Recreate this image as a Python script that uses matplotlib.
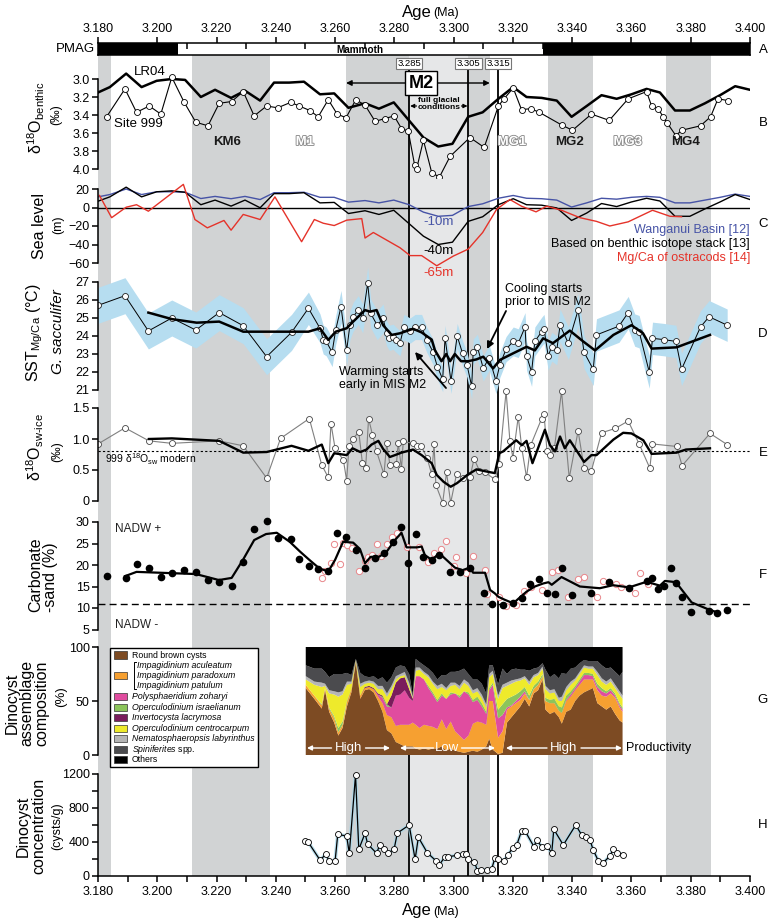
import numpy as np
import matplotlib.pyplot as plt
import matplotlib.patheffects as pe
from matplotlib.patches import Rectangle
from matplotlib.ticker import MultipleLocator, FormatStrFormatter, FixedLocator

plt.rcParams['font.family'] = ['Liberation Sans', 'DejaVu Sans']
plt.rcParams['mathtext.fontset'] = 'custom'
plt.rcParams['mathtext.rm'] = 'Liberation Sans'
plt.rcParams['mathtext.it'] = 'Liberation Sans:italic'
plt.rcParams['mathtext.bf'] = 'Liberation Sans:bold'
plt.rcParams['axes.linewidth'] = 1.1

# ------------------------------------------------------------------ data
pmag_bounds = [3.180, 3.207, 3.330, 3.400]
pmag_colors = ['black', 'white', 'black']
glacial_bands = [(3.1800, 3.1843), (3.2117, 3.2380), (3.2637, 3.3122),
                 (3.3318, 3.3470), (3.3716, 3.3870)]
full_glacial = (3.285, 3.305)
event_lines = [3.285, 3.305, 3.315]
stage_names = ['KM6', 'M1', 'MG1', 'MG2', 'MG3', 'MG4']
stage_ages = [3.2235, 3.2498, 3.3197, 3.3392, 3.3588, 3.3784]
stage_glacial = [True, False, False, True, False, True]

# B: benthic d18O
lr04_age = [3.1800, 3.1840, 3.1895, 3.1947, 3.1998, 3.2049, 3.2094, 3.2147, 3.2195, 3.2249,
            3.2296, 3.2347, 3.2394, 3.2445, 3.2495, 3.2549, 3.2597, 3.2645, 3.2701, 3.2748,
            3.2798, 3.2898, 3.2948, 3.2996, 3.3049, 3.3098, 3.3151, 3.3201, 3.3246, 3.3297,
            3.3348, 3.3398, 3.3449, 3.3499, 3.3550, 3.3600, 3.3651, 3.3696, 3.3747, 3.3797,
            3.3848, 3.3899, 3.3950, 3.4000]
lr04_d18o = [3.15, 3.09, 2.94, 3.09, 3.02, 3.00, 3.01, 3.20, 3.12, 3.21,
             3.13, 3.24, 3.04, 3.04, 3.03, 3.17, 3.16, 3.32, 3.27, 3.33,
             3.26, 3.65, 3.75, 3.72, 3.42, 3.37, 3.22, 3.09, 3.20, 3.21,
             3.24, 3.42, 3.30, 3.18, 3.22, 3.17, 3.11, 3.15, 3.35, 3.35,
             3.27, 3.18, 3.08, 3.12]
site999_age = [3.1829, 3.1891, 3.1930, 3.1973, 3.2012, 3.2049, 3.2091, 3.2130, 3.2171, 3.2209,
               3.2251, 3.2290, 3.2327, 3.2369, 3.2406, 3.2450, 3.2479, 3.2515, 3.2543, 3.2577,
               3.2607, 3.2637, 3.2670, 3.2701, 3.2735, 3.2768, 3.2799, 3.2824, 3.2847, 3.2868,
               3.2875, 3.2898, 3.2926, 3.2952, 3.2988, 3.3055, 3.3103, 3.3151, 3.3170, 3.3201,
               3.3229, 3.3260, 3.3289, 3.3364, 3.3401, 3.3465, 3.3525, 3.3589, 3.3651, 3.3668,
               3.3690, 3.3707, 3.3721, 3.3750, 3.3769, 3.3833, 3.3867, 3.3892, 3.3926]
site999_d18o = [3.42, 3.11, 3.37, 3.30, 3.39, 2.98, 3.26, 3.48, 3.52, 3.27,
                3.25, 3.14, 3.41, 3.30, 3.32, 3.26, 3.30, 3.35, 3.42, 3.23,
                3.39, 3.43, 3.23, 3.29, 3.47, 3.44, 3.41, 3.55, 3.58, 3.95,
                4.00, 3.68, 4.04, 4.09, 3.86, 3.65, 3.76, 3.30, 3.22, 3.10,
                3.34, 3.33, 3.37, 3.51, 3.57, 3.39, 3.46, 3.22, 3.14, 3.30,
                3.33, 3.42, 3.49, 3.63, 3.57, 3.52, 3.42, 3.22, 3.24]

# C: sea level (m)
stack_sl = [6.8, 11.5, 22, 11.5, 17, 18, 16.5, 3, 8, 1.5,
            8, -0.3, 15, 15, 16, 5, 5.5, -6.5, -3.5, -7.5,
            -3, -31, -40, -37.5, -15, -10, 3, 9.5, 3, 2.5,
            -0.5, -14, -6, 4.3, 1, 6, 10, 7, -9.5, -9.5,
            -1.5, 6, 14, 8.6]
wanganui_age = [3.1800, 3.1840, 3.1895, 3.1947, 3.1998, 3.2049, 3.2094, 3.2147, 3.2195, 3.2249,
                3.2296, 3.2347, 3.2394, 3.2445, 3.2495, 3.2549, 3.2597, 3.2645, 3.2701, 3.2748,
                3.2798, 3.2850, 3.2898, 3.2948, 3.2996, 3.3049, 3.3098, 3.3151, 3.3201, 3.3246,
                3.3297, 3.3348, 3.3398, 3.3449, 3.3499, 3.3550, 3.3600, 3.3651, 3.3696, 3.3747,
                3.3797, 3.3848, 3.3899, 3.3950, 3.4000]
wanganui_sl = [11.5, 14, 20, 14, 17, 17, 16.5, 9.7, 12, 9.5,
               12, 8.6, 16, 16, 16.5, 11, 11, 5.8, 7.5, 5,
               8, 3, -5, -9.5, -8.5, 1, 4, 10, 13, 10,
               9.5, 8, 0.5, 5, 10, 9, 11, 12, 11, 5,
               5, 8, 11, 14.5, 12]
ostracod_age = [3.1805, 3.1846, 3.1895, 3.1930, 3.1970, 3.2088, 3.2127, 3.2169, 3.2225, 3.2249,
                3.2290, 3.2347, 3.2397, 3.2487, 3.2530, 3.2560, 3.2597, 3.2639, 3.2690, 3.2701,
                3.2729, 3.2819, 3.2853, 3.2892, 3.2943, 3.2999, 3.3049, 3.3098, 3.3145, 3.3190,
                3.3229, 3.3278, 3.3314, 3.3364, 3.3426, 3.3482, 3.3527, 3.3589, 3.3671, 3.3730,
                3.3769]
ostracod_sl = [13, -11, 0.3, 3, -4, 25, -13, -22, -14, -24.5,
               -7.5, -13, 11.5, -37, -13, -17, -19.5, -13.7, -12, -33,
               -27, -43.5, -52, -52, -63, -52.5, -45, -27, -2, 8.6,
               1.4, -4.7, 1.4, -3, -11, -15, -20, -15.5, -3, -9.5,
               -10]

# D: SST Mg/Ca (age, value, 1-sigma)
sst_age = [3.1800, 3.1891, 3.1970, 3.2049, 3.2130, 3.2209, 3.2290, 3.2369, 3.2453, 3.2510,
           3.2549, 3.2560, 3.2570, 3.2590, 3.2602, 3.2620, 3.2639, 3.2650, 3.2661, 3.2678,
           3.2693, 3.2710, 3.2720, 3.2742, 3.2762, 3.2774, 3.2783, 3.2796, 3.2805, 3.2819,
           3.2832, 3.2853, 3.2870, 3.2892, 3.2909, 3.2931, 3.2945, 3.2963, 3.2971, 3.2991,
           3.3012, 3.3030, 3.3045, 3.3061, 3.3066, 3.3080, 3.3100, 3.3120, 3.3143, 3.3156,
           3.3177, 3.3201, 3.3218, 3.3241, 3.3246, 3.3263, 3.3274, 3.3297, 3.3305, 3.3319,
           3.3331, 3.3348, 3.3359, 3.3387, 3.3420, 3.3440, 3.3471, 3.3482, 3.3558, 3.3589,
           3.3611, 3.3626, 3.3660, 3.3671, 3.3709, 3.3750, 3.3769, 3.3833, 3.3862, 3.3923]
sst_val = [25.70, 26.24, 24.28, 25.00, 24.33, 25.30, 24.57, 22.85, 24.20, 25.54,
           24.43, 23.80, 23.70, 23.10, 24.33, 25.63, 23.20, 24.60, 25.07, 25.44,
           24.98, 26.93, 25.26, 24.60, 24.98, 24.15, 23.90, 23.96, 23.80, 23.60,
           24.50, 24.30, 24.50, 24.50, 23.80, 23.10, 22.30, 21.60, 23.90, 21.50,
           24.00, 23.04, 22.40, 21.20, 23.13, 23.40, 22.20, 22.80, 21.50, 22.40,
           23.27, 23.70, 23.60, 24.50, 22.90, 22.00, 23.70, 24.24, 24.40, 22.90,
           23.40, 23.20, 24.60, 23.60, 25.44, 23.10, 22.15, 24.06, 24.55, 25.30,
           24.33, 24.24, 22.00, 23.87, 23.80, 23.70, 22.15, 24.50, 25.07, 24.60]
sst_err = [1.0, 1.0, 1.0, 1.0, 1.0, 1.0, 1.0, 1.0, 1.0, 0.9,
           0.8, 0.8, 0.8, 0.8, 0.8, 0.9, 0.8, 0.8, 0.8, 0.8,
           0.8, 0.9, 0.8, 0.8, 0.8, 0.7, 0.7, 0.7, 0.7, 0.7,
           0.7, 0.7, 0.7, 0.7, 0.7, 0.7, 0.7, 0.7, 0.7, 0.7,
           0.7, 0.7, 0.7, 0.7, 0.7, 0.7, 0.7, 0.7, 0.7, 0.7,
           0.7, 0.8, 0.8, 0.8, 0.8, 0.8, 0.8, 0.8, 0.8, 0.8,
           0.8, 0.8, 0.9, 0.9, 0.9, 0.9, 0.9, 0.9, 0.9, 0.9,
           0.9, 0.9, 0.9, 0.9, 0.9, 0.9, 0.9, 0.9, 0.9, 0.9]
sst_smooth_age = [3.1970, 3.2049, 3.2133, 3.2209, 3.2290, 3.2369, 3.2453, 3.2510, 3.2549, 3.2577,
                  3.2602, 3.2639, 3.2661, 3.2701, 3.2718, 3.2740, 3.2762, 3.2791, 3.2819, 3.2863,
                  3.2892, 3.2926, 3.2937, 3.2959, 3.2975, 3.2988, 3.3004, 3.3025, 3.3049, 3.3077,
                  3.3100, 3.3133, 3.3156, 3.3201, 3.3246, 3.3274, 3.3302, 3.3335, 3.3392, 3.3437,
                  3.3477, 3.3539, 3.3600, 3.3639, 3.3668, 3.3752, 3.3865]
sst_smooth = [25.30, 24.94, 24.74, 24.80, 24.24, 24.24, 24.24, 24.24, 24.43, 23.78,
              24.24, 24.43, 24.80, 25.44, 25.35, 25.44, 24.60, 24.06, 24.15, 24.40,
              24.20, 23.80, 23.20, 22.60, 23.00, 22.60, 23.00, 22.60, 22.60, 22.70,
              22.85, 22.20, 22.67, 23.04, 23.40, 23.20, 23.87, 23.60, 24.30, 23.70,
              23.20, 24.06, 24.60, 24.15, 23.30, 23.37, 24.06]

# E: d18O sw-ice
sw_age = [3.1800, 3.1891, 3.1972, 3.2049, 3.2209, 3.2290, 3.2369, 3.2416, 3.2513, 3.2555,
          3.2577, 3.2586, 3.2600, 3.2628, 3.2639, 3.2647, 3.2659, 3.2680, 3.2692, 3.2703,
          3.2713, 3.2726, 3.2740, 3.2765, 3.2774, 3.2785, 3.2807, 3.2813, 3.2824, 3.2830,
          3.2863, 3.2877, 3.2891, 3.2910, 3.2926, 3.2934, 3.2940, 3.2963, 3.2976, 3.2990,
          3.3010, 3.3032, 3.3055, 3.3069, 3.3087, 3.3106, 3.3139, 3.3154, 3.3177, 3.3190,
          3.3200, 3.3218, 3.3230, 3.3246, 3.3260, 3.3297, 3.3305, 3.3315, 3.3325, 3.3340,
          3.3364, 3.3390, 3.3420, 3.3440, 3.3465, 3.3499, 3.3545, 3.3589, 3.3626, 3.3662,
          3.3671, 3.3752, 3.3771, 3.3865, 3.3923]
sw_val = [0.92, 1.18, 0.97, 0.93, 0.97, 0.89, 0.37, 1.01, 1.33, 0.58,
          0.38, 1.25, 0.85, 0.66, 0.33, 0.89, 1.00, 1.11, 0.62, 0.53,
          1.33, 1.07, 0.80, 0.43, 0.93, 0.58, 0.60, 0.94, 0.52, 0.96,
          0.93, 0.89, 0.88, 0.70, 0.43, 0.92, 0.26, -0.03, 0.46, -0.03,
          0.44, 0.37, 0.38, 0.68, 0.49, 0.46, 0.35, 0.60, 1.77, 0.96,
          0.70, 1.36, 0.85, 0.38, 0.90, 1.33, 1.41, 0.80, 0.74, 0.85,
          1.77, 0.37, 1.13, 0.54, 0.49, 1.10, 1.17, 1.29, 0.92, 0.53,
          0.92, 0.88, 0.57, 1.09, 0.91]
sw_smooth_age = [3.1972, 3.2049, 3.2209, 3.2290, 3.2369, 3.2453, 3.2510, 3.2555, 3.2577, 3.2597,
                 3.2639, 3.2659, 3.2685, 3.2706, 3.2723, 3.2746, 3.2762, 3.2785, 3.2802, 3.2824,
                 3.2863, 3.2892, 3.2926, 3.2943, 3.2966, 3.2990, 3.3012, 3.3046, 3.3077, 3.3106,
                 3.3139, 3.3154, 3.3167, 3.3211, 3.3230, 3.3246, 3.3266, 3.3308, 3.3325, 3.3342,
                 3.3359, 3.3375, 3.3392, 3.3440, 3.3465, 3.3482, 3.3539, 3.3572, 3.3600, 3.3640,
                 3.3668, 3.3752, 3.3784, 3.3865]
sw_smooth = [1.00, 1.01, 0.97, 0.78, 0.79, 0.89, 0.81, 0.91, 0.61, 0.77,
             0.74, 0.85, 0.79, 0.83, 0.91, 0.97, 0.84, 0.71, 0.74, 0.78,
             0.83, 0.74, 0.61, 0.42, 0.31, 0.23, 0.29, 0.42, 0.51, 0.48,
             0.45, 0.77, 0.80, 0.98, 0.90, 0.97, 0.61, 1.15, 0.90, 0.80,
             1.04, 0.85, 0.98, 0.63, 0.74, 0.74, 0.99, 1.10, 1.09, 0.98,
             0.76, 0.78, 0.83, 0.85]
sw_modern = 0.8

# F: carbonate sand (%)
carb_age = [3.1829, 3.1893, 3.1930, 3.1972, 3.2012, 3.2049, 3.2090, 3.2130, 3.2170, 3.2208,
            3.2251, 3.2290, 3.2327, 3.2369, 3.2408, 3.2450, 3.2479, 3.2513, 3.2543, 3.2577,
            3.2607, 3.2637, 3.2670, 3.2701, 3.2735, 3.2765, 3.2797, 3.2824, 3.2847, 3.2873,
            3.2898, 3.2926, 3.2952, 3.2988, 3.3021, 3.3055, 3.3102, 3.3128, 3.3167, 3.3199,
            3.3229, 3.3258, 3.3289, 3.3314, 3.3342, 3.3364, 3.3398, 3.3465, 3.3525, 3.3592,
            3.3651, 3.3671, 3.3690, 3.3709, 3.3732, 3.3750, 3.3771, 3.3800, 3.3862, 3.3889,
            3.3923]
carb_val = [17.5, 16.9, 20.2, 19.2, 17.1, 18.1, 18.8, 18.4, 16.4, 16.1,
            15.2, 20.8, 28.3, 30.2, 26.2, 26.0, 21.3, 19.8, 19.0, 18.7,
            27.4, 26.6, 23.6, 19.4, 21.6, 22.9, 25.4, 28.8, 20.4, 27.1,
            21.9, 21.2, 22.3, 18.4, 18.4, 19.4, 13.4, 10.9, 10.7, 11.1,
            12.3, 15.6, 16.7, 13.6, 13.2, 19.2, 13.0, 13.4, 16.0, 14.6,
            16.3, 16.9, 14.4, 15.2, 19.2, 15.7, 12.6, 9.1, 9.3, 8.8,
            9.5]
carb2_age = [3.2555, 3.2566, 3.2586, 3.2597, 3.2616, 3.2627, 3.2640, 3.2656, 3.2681, 3.2700,
             3.2710, 3.2725, 3.2742, 3.2755, 3.2774, 3.2791, 3.2808, 3.2841, 3.2884, 3.2914,
             3.2935, 3.2959, 3.2974, 3.3001, 3.3008, 3.3042, 3.3066, 3.3106, 3.3114, 3.3154,
             3.3177, 3.3210, 3.3238, 3.3260, 3.3297, 3.3331, 3.3353, 3.3387, 3.3420, 3.3440,
             3.3485, 3.3503, 3.3548, 3.3566, 3.3613, 3.3628, 3.3657]
carb2_val = [16.9, 18.6, 20.5, 24.8, 20.2, 25.2, 24.6, 23.9, 18.7, 21.0,
             21.9, 22.3, 24.9, 22.2, 24.9, 26.6, 27.5, 24.3, 24.3, 20.8,
             22.7, 23.7, 25.6, 19.8, 21.8, 18.1, 22.1, 18.8, 13.3, 12.6,
             10.5, 10.7, 14.0, 15.0, 14.2, 18.4, 18.8, 12.5, 16.7, 17.3,
             12.6, 16.3, 15.6, 14.8, 13.4, 18.1, 15.6]
carb_smooth_age = [3.1891, 3.1930, 3.2049, 3.2130, 3.2208, 3.2251, 3.2290, 3.2327, 3.2367, 3.2403,
                   3.2447, 3.2482, 3.2513, 3.2547, 3.2577, 3.2600, 3.2627, 3.2661, 3.2684, 3.2701,
                   3.2720, 3.2748, 3.2774, 3.2802, 3.2824, 3.2841, 3.2877, 3.2892, 3.2903, 3.2926,
                   3.2952, 3.2982, 3.3004, 3.3030, 3.3055, 3.3066, 3.3106, 3.3123, 3.3139, 3.3151,
                   3.3173, 3.3201, 3.3246, 3.3274, 3.3302, 3.3320, 3.3331, 3.3364, 3.3426, 3.3493,
                   3.3538, 3.3592, 3.3651, 3.3696, 3.3713, 3.3750, 3.3803, 3.3859, 3.3889]
carb_smooth = [17.4, 18.4, 18.1, 17.9, 16.5, 17.0, 21.3, 25.8, 27.2, 27.5,
               25.4, 23.1, 21.2, 19.2, 18.5, 21.2, 25.4, 25.2, 23.7, 20.4,
               21.9, 21.9, 23.1, 25.8, 27.5, 24.1, 24.1, 24.3, 22.3, 21.2,
               22.7, 20.8, 19.4, 18.8, 19.4, 18.2, 18.2, 14.2, 13.4, 12.6,
               11.9, 11.1, 13.8, 15.0, 15.7, 16.0, 15.4, 17.2, 15.0, 14.6,
               15.3, 14.8, 16.1, 15.2, 16.3, 16.0, 11.3, 9.7, 9.0]
carb_threshold = 11

# G: dinocyst assemblage (%)
g_age = [3.2501, 3.2530, 3.2555, 3.2566, 3.2580, 3.2597, 3.2611, 3.2625, 3.2640, 3.2655,
         3.2670, 3.2685, 3.2700, 3.2715, 3.2730, 3.2745, 3.2760, 3.2775, 3.2790, 3.2805,
         3.2820, 3.2835, 3.2850, 3.2862, 3.2872, 3.2885, 3.2900, 3.2915, 3.2930, 3.2945,
         3.2960, 3.2975, 3.2990, 3.3005, 3.3020, 3.3035, 3.3050, 3.3065, 3.3080, 3.3095,
         3.3110, 3.3120, 3.3132, 3.3150, 3.3165, 3.3180, 3.3195, 3.3210, 3.3225, 3.3240,
         3.3255, 3.3270, 3.3285, 3.3300, 3.3310, 3.3325, 3.3340, 3.3355, 3.3365, 3.3380,
         3.3395, 3.3410, 3.3425, 3.3440, 3.3455, 3.3470, 3.3485, 3.3500, 3.3515, 3.3530,
         3.3545, 3.3560, 3.3570]
round_brown = [62, 52, 43, 60, 40, 30, 18, 25, 45, 58,
               86, 52, 60, 61, 58, 50, 40, 23, 20, 12,
               10, 8, 8, 8, 6, 5, 6, 5, 6, 6,
               8, 4, 6, 4, 3, 2, 3, 4, 3, 5,
               8, 15, 5, 1, 2, 30, 35, 40, 45, 52,
               45, 57, 60, 70, 42, 38, 40, 35, 29, 40,
               42, 50, 55, 58, 60, 62, 48, 45, 42, 45,
               38, 32, 30]
impagidinium = [3, 3, 3, 2, 3, 4, 3, 3, 4, 3,
                1, 3, 2, 2, 3, 4, 8, 14, 15, 15,
                18, 20, 20, 22, 22, 20, 22, 22, 20, 18,
                25, 20, 25, 18, 15, 12, 15, 25, 28, 25,
                20, 35, 45, 15, 20, 12, 10, 8, 6, 5,
                6, 4, 5, 3, 8, 10, 8, 6, 10, 10,
                12, 10, 10, 12, 10, 8, 12, 10, 12, 12,
                15, 12, 10]
p_zoharyi = [0, 0, 0, 0, 0, 0, 0, 0, 0, 0,
             0, 0, 0, 0, 0, 2, 5, 8, 9, 28,
             28, 32, 25, 20, 45, 48, 42, 35, 30, 25,
             22, 28, 25, 35, 35, 45, 38, 20, 20, 15,
             10, 10, 15, 18, 15, 2, 1, 2, 3, 2,
             0, 0, 0, 0, 0, 0, 0, 0, 0, 1,
             2, 2, 3, 4, 4, 3, 3, 4, 3, 3,
             2, 2, 2]
o_israelianum = [0, 0, 1, 0, 1, 2, 4, 3, 1, 0,
                 0, 0, 0, 0, 0, 0, 1, 2, 0, 0,
                 0, 0, 0, 0, 0, 0, 0, 2, 2, 2,
                 2, 0, 2, 0, 2, 0, 2, 2, 3, 3,
                 2, 2, 2, 8, 10, 8, 8, 6, 5, 4,
                 4, 3, 3, 2, 3, 3, 4, 4, 5, 4,
                 3, 2, 2, 2, 2, 2, 3, 3, 2, 2,
                 2, 2, 2]
i_lacrymosa = [0, 0, 0, 0, 0, 0, 0, 0, 0, 0,
               0, 0, 1, 1, 1, 1, 1, 0, 11, 12,
               15, 12, 8, 2, 0, 0, 0, 0, 0, 0,
               0, 0, 0, 0, 0, 0, 0, 0, 0, 0,
               0, 0, 0, 0, 0, 0, 0, 0, 0, 0,
               0, 0, 0, 0, 0, 0, 0, 0, 0, 0,
               0, 0, 0, 0, 0, 0, 0, 0, 0, 0,
               0, 0, 0]
o_centrocarpum = [5, 10, 16, 2, 13, 20, 29, 25, 15, 5,
                  1, 8, 3, 3, 4, 4, 6, 7, 6, 3,
                  2, 2, 3, 1, 5, 6, 5, 8, 8, 10,
                  6, 8, 6, 8, 6, 8, 6, 6, 5, 5,
                  4, 10, 8, 10, 15, 12, 12, 12, 10, 8,
                  10, 8, 6, 5, 8, 6, 6, 5, 6, 5,
                  6, 5, 5, 5, 4, 5, 8, 6, 6, 6,
                  5, 8, 8]
n_labyrinthus = [3, 3, 4, 2, 3, 3, 4, 3, 3, 2,
                 1, 3, 2, 2, 2, 3, 3, 3, 3, 3,
                 2, 3, 3, 1, 3, 2, 2, 2, 2, 3,
                 3, 2, 3, 2, 3, 3, 3, 3, 3, 3,
                 3, 3, 3, 3, 3, 3, 3, 2, 2, 2,
                 3, 2, 2, 2, 3, 3, 3, 3, 4, 3,
                 3, 2, 2, 2, 2, 2, 3, 3, 3, 3,
                 3, 3, 3]
spiniferites = [10, 12, 13, 11, 12, 16, 17, 16, 8, 6,
                0, 10, 5, 3, 5, 6, 8, 10, 8, 8,
                8, 5, 8, 2, 8, 5, 6, 6, 8, 6,
                8, 12, 10, 10, 14, 10, 8, 10, 8, 10,
                10, 8, 5, 10, 15, 8, 10, 10, 8, 6,
                10, 6, 5, 3, 15, 12, 14, 18, 22, 12,
                12, 10, 8, 5, 5, 5, 10, 12, 12, 10,
                12, 14, 22]
taxa_names = ['Round brown cysts', 'Impagidinium', 'Polysphaeridium zoharyi',
              'Operculodinium israelianum', 'Invertocysta lacrymosa',
              'Operculodinium centrocarpum', 'Nematosphaeropsis labyrinthus',
              'Spiniferites spp.', 'Others']
taxa_colors = ['#7d4b23', '#f6a031', '#e04c9f', '#8cc55b', '#7a1c5c',
               '#eeea2b', '#b5b5b5', '#4b4b4e', '#000000']
impagidinium_species = ['Impagidinium aculeatum', 'Impagidinium paradoxum', 'Impagidinium patulum']

# H: dinocyst concentration (cysts/g)
conc_age = [3.2498, 3.2509, 3.2549, 3.2569, 3.2580, 3.2600, 3.2609, 3.2639, 3.2648, 3.2669,
            3.2680, 3.2701, 3.2710, 3.2740, 3.2751, 3.2765, 3.2779, 3.2799, 3.2810, 3.2850,
            3.2870, 3.2881, 3.2911, 3.2940, 3.2951, 3.2971, 3.2982, 3.3012, 3.3030, 3.3041,
            3.3049, 3.3070, 3.3080, 3.3094, 3.3111, 3.3128, 3.3139, 3.3151, 3.3170, 3.3182,
            3.3199, 3.3213, 3.3229, 3.3241, 3.3271, 3.3280, 3.3297, 3.3314, 3.3331, 3.3338,
            3.3370, 3.3412, 3.3432, 3.3446, 3.3460, 3.3471, 3.3488, 3.3503, 3.3527, 3.3539,
            3.3552, 3.3570]
conc_val = [412, 400, 188, 255, 176, 176, 490, 470, 267, 1188,
            314, 502, 376, 267, 370, 314, 270, 314, 505, 600,
            196, 455, 274, 180, 129, 227, 227, 243, 259, 259,
            196, 168, 62, 71, 71, 79, 208, 200, 176, 247,
            326, 365, 529, 529, 345, 423, 345, 353, 274, 549,
            365, 600, 482, 455, 423, 306, 180, 149, 235, 314,
            274, 247]

# ------------------------------------------------------------------ layout
W, H = 774, 923
X0, X1 = 98, 750
AGE0, AGE1 = 3.180, 3.400
BAND = '#d1d3d4'
BAND_LIGHT = '#e6e7e8'
BLUE = '#4653a6'
RED = '#e5332a'

fig = plt.figure(figsize=(W / 100, H / 100), dpi=100)


def box(top, bottom):
    return [X0 / W, 1 - bottom / H, (X1 - X0) / W, (bottom - top) / H]


def apx(a):
    return X0 + (a - AGE0) / (AGE1 - AGE0) * (X1 - X0)


def panel(top, bottom, anchors, ticks, labels=None):
    (va, pa), (vb, pb) = anchors
    k = (vb - va) / (pb - pa)
    ax = fig.add_axes(box(top, bottom))
    ax.set_zorder(1)
    ax.set_xlim(AGE0, AGE1)
    ax.set_ylim(va + (bottom - pa) * k, va + (top - pa) * k)
    ax.patch.set_visible(False)
    for s in ('top', 'right', 'bottom'):
        ax.spines[s].set_visible(False)
    ax.spines['left'].set_bounds(min(ticks), max(ticks))
    ax.set_xticks([])
    ax.set_yticks(ticks)
    if labels is not None:
        ax.set_yticklabels(labels)
    ax.tick_params(axis='y', direction='out', length=4, width=1.1, labelsize=9, pad=2)
    return ax


# background shading and event lines (the lines stop where panel G is drawn)
bg = fig.add_axes(box(55, 876))
bg.set_zorder(0)
bg.set_xlim(AGE0, AGE1)
bg.set_ylim(876, 55)
bg.axis('off')
for a0, a1 in glacial_bands:
    bg.axvspan(a0, a1, color=BAND, lw=0)
bg.axvspan(*full_glacial, color=BAND_LIGHT, lw=0)
bg.vlines(event_lines, 69, 647, color='k', lw=1.3)
bg.vlines(event_lines, 755, 876, color='k', lw=1.3)

# A: palaeomagnetic bar
pm = fig.add_axes(box(43, 55))
pm.set_zorder(1)
pm.set_xlim(AGE0, AGE1)
pm.set_ylim(0, 1)
for b0, b1, c in zip(pmag_bounds[:-1], pmag_bounds[1:], pmag_colors):
    pm.axvspan(b0, b1, color=c, lw=0)
pm.set_yticks([])
pm.xaxis.tick_top()
pm.set_xticks(np.arange(3.18, 3.4001, 0.02))
pm.xaxis.set_major_formatter(FormatStrFormatter('%.3f'))
pm.xaxis.set_minor_locator(MultipleLocator(0.01))
pm.tick_params(axis='x', which='major', direction='out', length=4, width=1.1,
               labelsize=9, pad=2, top=True, bottom=False, labeltop=True, labelbottom=False)
pm.tick_params(axis='x', which='minor', direction='in', length=4, width=1.1,
               top=True, bottom=False)
pm.text((pmag_bounds[1] + pmag_bounds[2]) / 2, 0.45, 'Mammoth', ha='center', va='center',
        fontsize=7.2, fontweight='bold')

# B
axB = panel(58, 178, [(3.0, 79), (4.0, 169)], [3.0, 3.2, 3.4, 3.6, 3.8, 4.0],
            ['3.0', '3.2', '3.4', '3.6', '3.8', '4.0'])
axB.plot(lr04_age, lr04_d18o, color='k', lw=1.8)
axB.plot(site999_age, site999_d18o, color='k', lw=0.8, marker='o', ms=4.3,
         mfc='white', mec='k', mew=0.6)

# C
axC = panel(175, 282, [(20, 189), (-60, 263)], [20, 0, -20, -40, -60])
axC.axhline(0, color='k', lw=1.0)
axC.plot(wanganui_age, wanganui_sl, color=BLUE, lw=1.0)
axC.plot(lr04_age, stack_sl, color='k', lw=1.0)
axC.plot(ostracod_age, ostracod_sl, color=RED, lw=1.0)

# D
axD = panel(262, 400, [(27, 282), (21, 390)], [21, 22, 23, 24, 25, 26, 27])
sst_v = np.array(sst_val)
sst_e = np.array(sst_err)
axD.fill_between(sst_age, sst_v - sst_e, sst_v + sst_e, color='#b6ddf0', lw=0)
axD.plot(sst_age, sst_val, color='k', lw=0.7, marker='o', ms=4.3,
         mfc='white', mec='#222', mew=0.6)
axD.plot(sst_smooth_age, sst_smooth, color='k', lw=1.8)

# E
axE = panel(385, 510, [(1.5, 408), (0, 501)], [0, 0.5, 1.0, 1.5], ['0', '0.5', '1.0', '1.5'])
axE.axhline(sw_modern, color='k', lw=0.8, ls=(0, (2, 2)))
axE.plot(sw_age, sw_val, color='#808080', lw=0.8, marker='o', ms=4.3,
         mfc='white', mec='#444', mew=0.6)
axE.plot(sw_smooth_age, sw_smooth, color='k', lw=1.7)

# F
axF = panel(510, 635, [(30, 522), (5, 629.5)], [5, 10, 15, 20, 25, 30])
axF.axhline(carb_threshold, color='k', lw=1.0, ls=(0, (5, 3)))
axF.plot(carb2_age, carb2_val, ls='none', marker='o', ms=4.5, mfc='white',
         mec='#e8868a', mew=0.7)
axF.plot(carb_age, carb_val, ls='none', marker='o', ms=4.5, color='k')
axF.plot(carb_smooth_age, carb_smooth, color='k', lw=1.6)

# G
axG = panel(647, 755, [(100, 647), (0, 755)], [0, 50, 100])
axG.set_zorder(2)
layers = [round_brown, impagidinium, p_zoharyi, o_israelianum, i_lacrymosa,
          o_centrocarpum, n_labyrinthus, spiniferites]
others = 100 - np.sum(np.array(layers, dtype=float), axis=0)
axG.stackplot(g_age, *layers, others, colors=taxa_colors, lw=0)

# H
axH = panel(768, 876, [(1200, 774), (0, 876)], [0, 400, 800, 1200])
axH.spines['bottom'].set_visible(True)
axH.set_xticks(np.arange(3.18, 3.4001, 0.02))
axH.xaxis.set_major_formatter(FormatStrFormatter('%.3f'))
axH.xaxis.set_minor_locator(MultipleLocator(0.01))
axH.yaxis.set_minor_locator(FixedLocator([200, 600, 1000]))
axH.tick_params(axis='x', which='both', direction='out', length=4, width=1.1,
                labelsize=9, pad=3)
axH.tick_params(axis='y', which='minor', direction='out', length=4, width=1.1)
axH.plot(conc_age, conc_val, color='#a9d8ea', lw=2.6, alpha=0.8, solid_capstyle='round')
axH.plot(conc_age, conc_val, color='k', lw=0.9, marker='o', ms=4.3,
         mfc='white', mec='k', mew=0.6)

# ------------------------------------------------------------------ overlay texts
ov = fig.add_axes([0, 0, 1, 1])
ov.set_zorder(3)
ov.set_xlim(0, W)
ov.set_ylim(H, 0)
ov.axis('off')

ov.text(402, 12, 'Age', fontsize=12, ha='left', va='center')
ov.text(433, 13, '(Ma)', fontsize=9, ha='left', va='center')
ov.text(402, 911, 'Age', fontsize=12, ha='left', va='center')
ov.text(433, 912, '(Ma)', fontsize=9, ha='left', va='center')
ov.text(95, 49, 'PMAG', fontsize=9.5, ha='right', va='center')

for s, y in zip('ABCDEFGH', [50, 123, 224, 334, 453, 575, 700, 825]):
    ov.text(763, y, s, fontsize=9.5, ha='center', va='center')

# y labels
ylab = dict(rotation=90, ha='center', va='center')
ov.text(36, 118, 'δ$^{18}$O$_{\\mathrm{benthic}}$', fontsize=11.5, **ylab)
ov.text(56, 115, '(‰)', fontsize=9, **ylab)
ov.text(40, 226, 'Sea level', fontsize=11.5, **ylab)
ov.text(58, 225, '(m)', fontsize=9, **ylab)
ov.text(35, 333, 'SST$_{\\mathrm{Mg/Ca}}$ (°C)', fontsize=11.5, **ylab)
ov.text(58, 332, 'G. sacculifer', fontsize=11, style='italic', **ylab)
ov.text(35, 447, 'δ$^{18}$O$_{\\text{sw-ice}}$', fontsize=11.5, **ylab)
ov.text(57, 452, '(‰)', fontsize=9, **ylab)
ov.text(36, 575, 'Carbonate', fontsize=11.5, **ylab)
ov.text(51, 577, '-sand (%)', fontsize=11.5, **ylab)
ov.text(12, 703, 'Dinocyst', fontsize=11.5, **ylab)
ov.text(27, 703, 'assemblage', fontsize=11.5, **ylab)
ov.text(42, 703, 'composition', fontsize=11.5, **ylab)
ov.text(61, 697, '(%)', fontsize=9.5, **ylab)
ov.text(23, 826, 'Dinocyst', fontsize=11.5, **ylab)
ov.text(39, 826, 'concentration', fontsize=11.5, **ylab)
ov.text(57, 826, '(cysts/g)', fontsize=9, **ylab)

# event boxes and M2 marker
for a in event_lines:
    ov.text(apx(a), 63.5, '%.3f' % a, fontsize=6.8, ha='center', va='center',
            bbox=dict(boxstyle='square,pad=0.15', fc='white', ec='#777', lw=0.8))
m2 = glacial_bands[2]
ov.annotate('', xy=(apx(m2[0]), 83), xytext=(apx(m2[1]), 83),
            arrowprops=dict(arrowstyle='<|-|>', color='k', lw=1, mutation_scale=8,
                            shrinkA=0, shrinkB=0))
ov.text(421, 83, 'M2', fontsize=13, fontweight='bold', ha='center', va='center',
        bbox=dict(boxstyle='square,pad=0.2', fc='white', ec='k', lw=1))
ov.annotate('', xy=(apx(full_glacial[0]) + 1, 106), xytext=(apx(full_glacial[1]) - 1, 106),
            arrowprops=dict(arrowstyle='<|-|>', color='k', lw=0.8, mutation_scale=6,
                            shrinkA=0, shrinkB=0))
ov.text(439, 104, 'full glacial\nconditions', fontsize=6, fontweight='bold', ha='center',
        va='center', linespacing=0.95,
        bbox=dict(boxstyle='square,pad=0.05', fc=BAND_LIGHT, ec='none'))

ov.text(150, 72, 'LR04', fontsize=9.5, ha='center', va='center')
ov.text(138, 124, 'Site 999', fontsize=9.5, ha='center', va='center')
for name, a, glac in zip(stage_names, stage_ages, stage_glacial):
    if glac:
        ov.text(apx(a), 142, name, fontsize=9.5, fontweight='bold', color='#1a1a1a',
                ha='center', va='center')
    else:
        ov.text(apx(a), 142, name, fontsize=9.5, fontweight='bold', color='white',
                ha='center', va='center',
                path_effects=[pe.withStroke(linewidth=1.3, foreground='#8c8c8c')])

# C annotations
ov.text(439, 222, '-10m', fontsize=9.5, color=BLUE, ha='center', va='center')
ov.text(439, 251, '-40m', fontsize=9.5, color='k', ha='center', va='center')
ov.text(439, 273, '-65m', fontsize=9.5, color=RED, ha='center', va='center')
ov.text(750, 230, 'Wanganui Basin [12]', fontsize=9, color=BLUE, ha='right', va='center')
ov.text(750, 244, 'Based on benthic isotope stack [13]', fontsize=9, color='k',
        ha='right', va='center')
ov.text(750, 258, 'Mg/Ca of ostracods [14]', fontsize=9, color=RED, ha='right', va='center')

# D annotations
ov.text(505, 295.5, 'Cooling starts\nprior to MIS M2', fontsize=9, ha='left', va='center',
        linespacing=1.05)
ov.annotate('', xy=(487, 349), xytext=(506, 311),
            arrowprops=dict(arrowstyle='-|>', color='k', lw=1.3, mutation_scale=10,
                            shrinkA=0, shrinkB=0))
ov.text(339, 378.5, 'Warming starts\nearly in MIS M2', fontsize=9, ha='left', va='center',
        linespacing=1.05)
ov.annotate('', xy=(415, 352), xytext=(446, 388),
            arrowprops=dict(arrowstyle='-|>', color='k', lw=1.3, mutation_scale=10,
                            shrinkA=0, shrinkB=0))

# E, F annotations
ov.text(105, 459, '999 δ$^{18}$O$_{\\mathrm{sw}}$ modern', fontsize=7.5, ha='left', va='center')
ov.text(115, 529, 'NADW +', fontsize=8.5, ha='left', va='center', color='#222')
ov.text(115, 625, 'NADW -', fontsize=8.5, ha='left', va='center', color='#222')

# G productivity arrows
for x0, x1, lab, half in [(307, 390, 'High', 17), (400, 495, 'Low', 14), (506, 622, 'High', 17)]:
    xc = (x0 + x1) / 2
    ov.text(xc, 748, lab, fontsize=9.5, color='white', ha='center', va='center')
    for xe, xs in [(x0, xc - half), (x1, xc + half)]:
        ov.annotate('', xy=(xe, 748), xytext=(xs, 748),
                    arrowprops=dict(arrowstyle='-|>', color='white', lw=1,
                                    mutation_scale=7, shrinkA=0, shrinkB=0))
ov.text(626, 748, 'Productivity', fontsize=9, ha='left', va='center')

# G legend
ov.add_patch(Rectangle((110, 648), 148, 119, fc='white', ec='k', lw=1))
leg_rows = [(655.0, taxa_names[0], taxa_colors[0], 'normal', 132),
            (665.3, impagidinium_species[0], None, 'italic', 137),
            (675.7, impagidinium_species[1], taxa_colors[1], 'italic', 137),
            (686.0, impagidinium_species[2], None, 'italic', 137),
            (696.7, taxa_names[2], taxa_colors[2], 'italic', 132),
            (707.3, taxa_names[3], taxa_colors[3], 'italic', 132),
            (717.7, taxa_names[4], taxa_colors[4], 'italic', 132),
            (728.3, taxa_names[5], taxa_colors[5], 'italic', 132),
            (738.3, taxa_names[6], taxa_colors[6], 'italic', 132),
            (749.3, '$\\it{Spiniferites}$ spp.', taxa_colors[7], 'normal', 132),
            (759.3, taxa_names[8], taxa_colors[8], 'normal', 132)]
for y, txt, col, sty, xt in leg_rows:
    if col is not None:
        ov.add_patch(Rectangle((114, y - 3.6), 13, 7.2, fc=col, ec='#333', lw=0.5))
    ov.text(xt, y, txt, fontsize=6.3, style=sty, ha='left', va='center')
ov.plot([136, 134, 134, 136], [662, 662, 689, 689], color='k', lw=0.7)

fig.savefig('out.png', dpi=100)
